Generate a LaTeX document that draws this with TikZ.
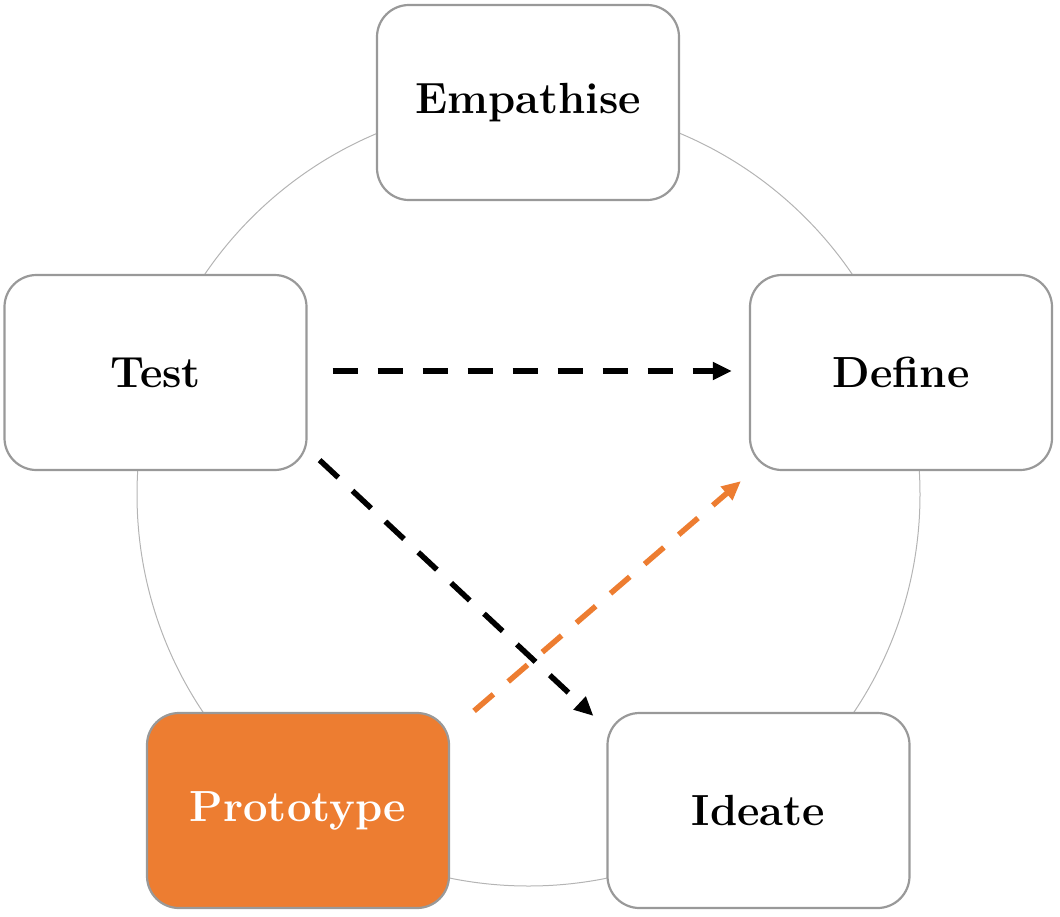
\documentclass[tikz,border=0pt]{standalone}
\usetikzlibrary{arrows.meta,calc}
\definecolor{boxgray}{HTML}{999999}
\definecolor{ringgray}{HTML}{B4B4B4}
\definecolor{accent}{HTML}{ED7D31}
\tikzset{
  stagebox/.style={draw=boxgray, line width=1.1pt, fill=white, rounded corners=16pt,
    minimum width=151pt, minimum height=97.5pt, inner sep=0pt,
    font=\fontsize{21.8}{26}\selectfont\bfseries},
  flow/.style={line width=2.75pt, dash pattern=on 12.75pt off 9.75pt,
    -{Triangle[length=9.5pt,width=8.5pt]}},
}
\begin{document}
\begin{tikzpicture}[x=0.5pt,y=-0.5pt]
\useasboundingbox (0,0) rectangle (1060,916);
\coordinate (c) at (528.5,494.5);
\draw[ringgray, line width=0.5pt] (c) circle[radius=195.75pt];
\node[stagebox] (emp) at (528,102.5) {Empathise};
\node[stagebox] (def) at (901,372.5) {Define};
\node[stagebox] (ide) at (758.5,810.5) {Ideate};
\node[stagebox, fill=accent, text=white] (pro) at (298,810.5) {Prototype};
\node[stagebox] (tst) at (155.5,372.5) {Test};
\draw[flow] ($(tst.east)+(25,-1.5)$) -- ($(def.west)+(-17,-1.5)$);
\draw[flow] ($(tst.south east)+(12,-11)$) -- ($(ide.north west)+(-13,4)$);
\draw[flow, accent] ($(pro.north east)+(24,-1)$) -- ($(def.south west)+(-8,10)$);
\end{tikzpicture}
\end{document}
